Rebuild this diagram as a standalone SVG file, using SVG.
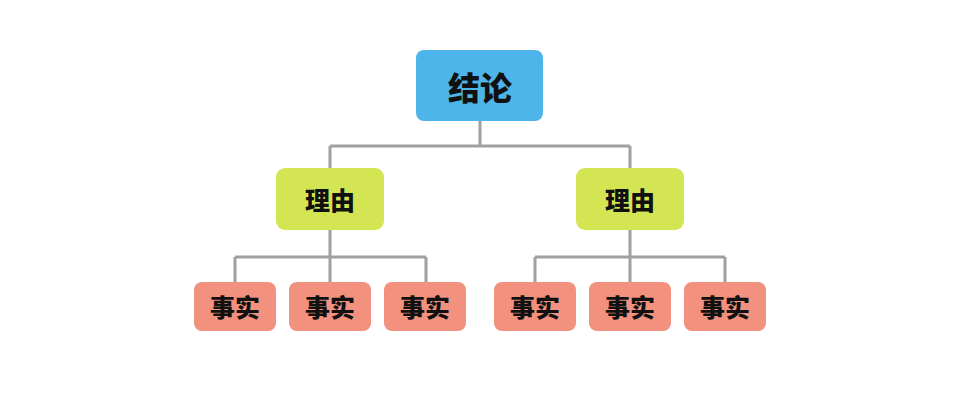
<svg xmlns="http://www.w3.org/2000/svg" width="960" height="403" viewBox="0 0 960 403">
<style>
.c{fill:none;stroke:#a0a0a0;stroke-width:3}
.t{font-family:"Noto Sans CJK SC",sans-serif;font-weight:900;fill:#111;text-anchor:middle;dominant-baseline:central}
.r{fill:#4db5ea}.g{fill:#d3e553}.f{fill:#f3917f}
</style>
<rect width="960" height="403" fill="#fff"/>
<g id="connectors">
<path class="c" d="M480 121V146M330 146H630M330 146V168M630 146V168"/>
<path class="c" d="M330 230V257M235 257H426M235 257V282M330 257V282M426 257V282"/>
<path class="c" d="M630 230V257M535 257H725M535 257V282M630 257V282M725 257V282"/>
</g>
<g id="root"><rect class="r" x="416" y="50" width="127" height="71" rx="8"/><text class="t" x="480" y="86" font-size="32">结论</text></g>
<g id="reason1"><rect class="g" x="276" y="168" width="108" height="62" rx="9"/><text class="t" x="330" y="199" font-size="25">理由</text></g>
<g id="reason2"><rect class="g" x="576" y="168" width="108" height="62" rx="9"/><text class="t" x="630" y="199" font-size="25">理由</text></g>
<g id="f1"><rect class="f" x="194" y="282" width="82" height="49" rx="8"/><text class="t" x="235" y="306" font-size="25">事实</text></g>
<g id="f2"><rect class="f" x="289" y="282" width="82" height="49" rx="8"/><text class="t" x="330" y="306" font-size="25">事实</text></g>
<g id="f3"><rect class="f" x="384" y="282" width="82" height="49" rx="8"/><text class="t" x="425" y="306" font-size="25">事实</text></g>
<g id="f4"><rect class="f" x="494" y="282" width="82" height="49" rx="8"/><text class="t" x="535" y="306" font-size="25">事实</text></g>
<g id="f5"><rect class="f" x="589" y="282" width="82" height="49" rx="8"/><text class="t" x="630" y="306" font-size="25">事实</text></g>
<g id="f6"><rect class="f" x="684" y="282" width="82" height="49" rx="8"/><text class="t" x="725" y="306" font-size="25">事实</text></g>
</svg>
